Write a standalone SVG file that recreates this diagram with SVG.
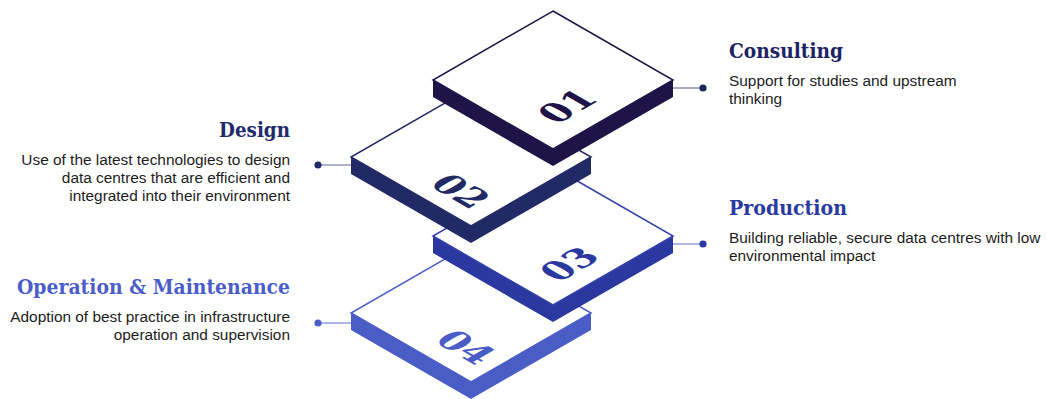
<svg xmlns="http://www.w3.org/2000/svg" width="1047" height="399" viewBox="0 0 1047 399">
  <style>
    .face { fill: #ffffff; stroke-width: 1.5; stroke-linejoin: miter; }
    .num { font-family: "DejaVu Serif", "Liberation Serif", serif; font-weight: bold; font-size: 36px; text-anchor: middle; }
    .head { font-family: "DejaVu Serif", "Liberation Serif", serif; font-weight: bold; font-size: 20px; }
    .body { font-family: "Liberation Sans", Arial, sans-serif; font-size: 15.4px; fill: #1c1c1c; }
    .r { text-anchor: end; }
    .link { stroke-width: 1.2; fill: none; }
  </style>
  <defs>
    <!-- isometric slab centred on the middle of its top face -->
    <path id="side" d="M-120,0 L0,69 L120,0 L120,17 L0,86 L-120,17 Z"/>
    <path id="top" d="M0,-69 L120,0 L0,69 L-120,0 Z"/>
  </defs>

  <!-- connectors -->
  <g id="connectors">
    <line class="link" x1="673" y1="88" x2="703" y2="88" stroke="#6d7199"/>
    <circle cx="703" cy="88" r="3.6" fill="#1f2560"/>
    <line class="link" x1="318" y1="165" x2="351" y2="165" stroke="#5d6296"/>
    <circle cx="318" cy="165" r="3.6" fill="#232a6b"/>
    <line class="link" x1="673" y1="244" x2="703" y2="244" stroke="#7d87d0"/>
    <circle cx="703" cy="244" r="3.6" fill="#2b3aa0"/>
    <line class="link" x1="318" y1="323" x2="351" y2="323" stroke="#5a6ace"/>
    <circle cx="318" cy="323" r="3.6" fill="#4b5dc8"/>
  </g>

  <!-- 04 Operation & Maintenance -->
  <g id="node-04">
    <g transform="translate(471,313)">
      <use href="#side" fill="#4a5cc6"/>
      <use href="#top" class="face" stroke="#4a5cc6"/>
    </g>
    <text class="num" fill="#4a5cc6" transform="matrix(0.866,0.5,-0.866,0.5,466,347)" x="0" y="13">04</text>
    <text class="head r" x="290" y="294" fill="#4b5dc8" textLength="273" lengthAdjust="spacingAndGlyphs">Operation &amp; Maintenance</text>
    <text class="body r" x="290" y="322">Adoption of best practice in infrastructure</text>
    <text class="body r" x="290" y="340">operation and supervision</text>
  </g>

  <!-- 03 Production -->
  <g id="node-03">
    <g transform="translate(553,236)">
      <use href="#side" fill="#2a389f"/>
      <use href="#top" class="face" stroke="#3442a8"/>
    </g>
    <text class="num" fill="#2a389f" transform="matrix(0.866,-0.5,0.866,0.5,569,264)" x="0" y="13">03</text>
    <text class="head" x="729" y="215" fill="#2b3aa0" textLength="118" lengthAdjust="spacingAndGlyphs">Production</text>
    <text class="body" x="729" y="243">Building reliable, secure data centres with low</text>
    <text class="body" x="729" y="261">environmental impact</text>
  </g>

  <!-- 02 Design -->
  <g id="node-02">
    <g transform="translate(471,157)">
      <use href="#side" fill="#222a66"/>
      <use href="#top" class="face" stroke="#222a66"/>
    </g>
    <text class="num" fill="#222a66" transform="matrix(0.866,0.5,-0.866,0.5,461,191)" x="0" y="13">02</text>
    <text class="head r" x="290" y="137" fill="#232a6b" textLength="71" lengthAdjust="spacingAndGlyphs">Design</text>
    <text class="body r" x="290" y="165">Use of the latest technologies to design</text>
    <text class="body r" x="290" y="183">data centres that are efficient and</text>
    <text class="body r" x="290" y="201">integrated into their environment</text>
  </g>

  <!-- 01 Consulting -->
  <g id="node-01">
    <g transform="translate(553,80)">
      <use href="#side" fill="#1f1447"/>
      <use href="#top" class="face" stroke="#1f1447"/>
    </g>
    <text class="num" fill="#1f1447" transform="matrix(0.866,-0.5,0.866,0.5,567,106)" x="0" y="13">01</text>
    <text class="head" x="729" y="58" fill="#1e2463" textLength="114" lengthAdjust="spacingAndGlyphs">Consulting</text>
    <text class="body" x="729" y="86">Support for studies and upstream</text>
    <text class="body" x="729" y="104">thinking</text>
  </g>
</svg>
